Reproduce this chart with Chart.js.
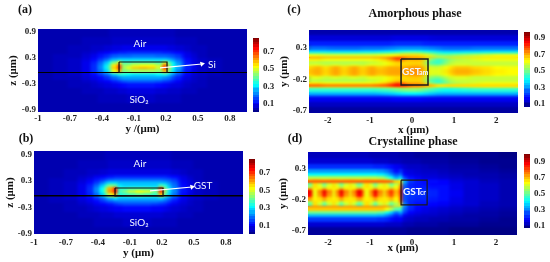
<!DOCTYPE html>
<html><head><meta charset="utf-8">
<style>html,body{margin:0;padding:0;background:#fff}canvas{position:absolute;left:0;top:0}</style>
<script src="https://cdn.jsdelivr.net/npm/chart.js@4"></script>
</head><body>
<script>
// ---------- data (field values in hundredths of the colour-bar unit) ----------
const guideY = [-0.93,-0.79,-0.65,-0.54,-0.47,-0.41,-0.36,-0.32,-0.29,-0.25,-0.21,-0.16,-0.08,-0.01,0.07,0.14,0.20,0.24,0.28,0.31,0.35,0.40,0.45,0.52,0.63,0.80];
const guideZ = [0.86,0.65,0.49,0.38,0.31,0.24,0.17,0.10,0.03,-0.02,-0.08,-0.15,-0.22,-0.31,-0.45,-0.67,-0.86];
const fieldA = [
[4,4,4,4,4,4,4,5,5,5,5,5,5,5,5,5,5,5,5,4,4,4,4,4,4,4],
[4,4,4,5,5,5,5,5,6,6,6,6,6,6,6,6,6,6,6,5,5,5,5,4,4,4],
[4,4,5,5,6,6,7,7,8,8,9,9,9,9,9,9,9,8,8,7,7,6,5,5,4,4],
[4,4,5,6,7,9,10,11,12,13,13,14,14,14,14,14,13,13,12,11,10,8,6,5,4,4],
[4,5,5,7,9,12,14,16,18,19,19,19,20,20,20,19,19,18,17,15,12,9,7,5,4,4],
[4,5,6,8,11,15,19,23,26,28,28,28,28,28,28,28,28,26,23,19,15,11,8,6,5,4],
[4,5,6,9,13,19,26,33,42,52,38,38,40,40,40,38,50,38,30,23,17,12,8,6,5,4],
[4,5,6,9,14,21,30,40,55,68,44,46,50,52,52,48,66,44,32,25,18,13,9,6,5,4],
[4,5,6,9,14,22,31,42,58,72,46,52,58,60,58,50,72,46,33,25,18,13,9,6,5,4],
[4,5,6,9,14,20,28,38,52,62,42,44,46,46,46,44,60,42,30,22,16,12,8,6,5,4],
[4,5,6,8,11,15,19,23,28,34,34,32,30,30,30,32,34,28,22,17,13,10,7,6,5,4],
[4,5,5,7,9,11,14,16,19,22,24,24,24,24,24,24,22,20,16,13,10,8,6,5,4,4],
[4,4,5,6,7,9,10,11,13,15,17,18,18,18,18,17,15,14,12,10,8,7,6,5,4,4],
[4,4,5,5,6,7,8,8,9,10,11,12,12,12,12,11,10,9,8,8,7,6,5,5,4,4],
[4,4,4,5,5,5,6,6,6,7,7,8,8,8,8,7,7,6,6,6,5,5,5,4,4,4],
[4,4,4,4,4,5,5,5,5,5,5,6,6,6,6,5,5,5,5,5,4,4,4,4,4,4],
[4,4,4,4,4,4,4,4,4,4,4,4,4,4,4,4,4,4,4,4,4,4,4,4,4,4]];
const fieldB = [
[4,4,4,4,4,4,4,5,5,5,5,5,5,5,5,5,5,5,5,4,4,4,4,4,4,4],
[4,4,4,5,5,5,5,5,6,6,6,6,6,6,6,6,6,6,6,5,5,5,5,4,4,4],
[4,4,5,5,6,6,7,7,8,8,8,8,8,8,8,8,8,8,8,7,7,6,5,5,4,4],
[4,4,5,6,7,9,10,11,12,13,13,13,13,13,13,13,13,13,12,11,10,8,6,5,4,4],
[4,5,5,7,9,12,14,16,18,19,19,19,19,19,19,19,19,18,17,15,12,9,7,5,4,4],
[4,5,6,8,11,15,20,25,28,28,26,26,26,26,26,26,26,25,22,18,14,10,8,6,5,4],
[4,5,6,9,13,19,27,35,42,40,30,28,28,28,28,28,38,34,26,20,15,11,8,6,5,4],
[4,5,6,9,14,22,32,44,60,72,36,36,38,38,38,36,68,42,30,22,16,12,9,6,5,4],
[4,5,6,9,14,22,32,46,62,74,38,42,48,52,50,42,70,44,30,22,16,12,9,6,5,4],
[4,5,6,9,13,19,28,38,50,60,34,36,38,40,38,36,58,38,28,20,15,11,8,6,5,4],
[4,5,6,8,10,14,18,22,26,30,26,26,26,26,26,26,28,24,20,15,12,9,7,6,5,4],
[4,5,5,7,9,11,14,16,18,20,21,21,21,21,21,21,20,18,15,12,10,8,6,5,4,4],
[4,4,5,6,7,9,10,11,12,14,15,16,16,16,16,15,14,13,11,9,8,7,6,5,4,4],
[4,4,5,5,6,7,8,8,9,10,10,11,11,11,11,10,10,9,8,7,7,6,5,5,4,4],
[4,4,4,5,5,5,6,6,6,7,7,7,7,7,7,7,7,6,6,6,5,5,5,4,4,4],
[4,4,4,4,4,5,5,5,5,5,5,6,6,6,6,5,5,5,5,5,4,4,4,4,4,4],
[4,4,4,4,4,4,4,4,4,4,4,4,4,4,4,4,4,4,4,4,4,4,4,4,4,4]];

const amorphousX = [-2.42,-2.26,-2.04,-1.83,-1.62,-1.40,-1.19,-0.95,-0.76,-0.59,-0.43,-0.29,-0.14,0,0.14,0.29,0.40,0.52,0.67,0.83,1.02,1.24,1.47,1.71,2.0,2.33];
const amorphousY = [0.54,0.44,0.35,0.28,0.24,0.21,0.17,0.14,0.11,0.08,0.03,-0.03,-0.08,-0.13,-0.19,-0.24,-0.27,-0.30,-0.33,-0.37,-0.40,-0.46,-0.54,-0.62,-0.70];
const fieldC = [
[10,10,10,10,10,10,10,10,10,10,10,10,10,10,10,10,10,10,10,10,10,10,10,10,10,10],
[14,14,14,14,14,14,14,14,14,14,15,15,15,15,15,15,15,14,14,14,14,14,14,14,14,14],
[20,20,20,20,20,20,20,20,20,20,21,21,21,21,21,21,20,20,20,20,20,20,20,20,20,20],
[27,27,27,26,26,26,27,27,27,28,29,30,30,30,30,30,29,28,27,26,26,26,27,27,27,27],
[36,36,36,35,35,35,36,36,37,38,39,41,42,42,42,41,39,37,35,34,34,35,35,36,36,36],
[46,46,46,45,45,45,46,46,47,48,50,52,54,54,54,52,49,45,42,41,42,43,44,45,46,46],
[62,62,60,60,60,60,60,60,61,62,63,65,66,66,66,64,60,54,52,52,54,56,58,60,62,62],
[76,76,74,74,74,74,74,74,76,78,84,86,82,76,76,74,70,66,64,66,66,66,66,66,66,66],
[64,64,62,62,62,62,62,62,64,68,74,80,70,70,70,68,56,46,46,52,56,58,60,62,62,62],
[57,57,56,56,56,56,56,58,60,62,66,68,66,67,67,66,50,44,46,54,58,58,58,58,58,58],
[60,61,58,60,58,60,58,61,60,62,65,66,66,68,68,66,54,50,52,58,60,60,58,58,58,58],
[66,70,65,70,65,70,65,70,66,69,70,70,70,72,72,70,60,58,60,63,68,68,66,65,63,62],
[68,71,66,71,66,71,66,71,68,70,71,71,71,73,73,71,61,60,61,65,70,70,68,66,64,63],
[66,70,65,70,65,70,65,70,66,69,70,70,70,72,72,70,60,58,60,63,68,68,66,65,63,62],
[60,61,58,60,58,60,58,61,60,62,65,66,66,68,68,66,54,50,52,58,60,60,58,58,58,58],
[57,57,56,56,56,56,56,58,60,62,66,68,66,67,67,66,50,44,46,54,58,58,58,58,58,58],
[64,64,62,62,62,62,62,62,64,68,74,80,70,70,70,68,56,46,46,52,56,58,60,62,62,62],
[76,76,74,74,74,74,74,74,76,78,84,86,82,76,76,74,70,66,64,66,66,66,66,66,66,66],
[60,60,60,60,60,60,60,60,61,62,63,65,66,66,66,64,60,54,52,52,54,56,58,60,60,60],
[44,44,44,44,44,44,44,44,45,46,48,50,52,52,52,50,47,44,42,41,42,43,44,44,44,44],
[34,34,34,34,34,34,34,34,35,36,37,39,40,40,40,39,37,35,34,34,34,34,34,34,34,34],
[24,24,24,24,24,24,24,24,24,25,26,27,27,27,27,27,26,25,24,24,24,24,24,24,24,24],
[16,16,16,16,16,16,16,16,16,16,17,17,17,17,17,17,16,16,16,16,16,16,16,16,16,16],
[12,12,12,12,12,12,12,12,12,12,12,12,12,12,12,12,12,12,12,12,12,12,12,12,12,12],
[9,9,9,9,9,9,9,9,9,9,9,9,9,9,9,9,9,9,9,9,9,9,9,9,9,9]];

const crystalX = [-2.43,-2.29,-2.17,-2.07,-1.98,-1.88,-1.76,-1.67,-1.57,-1.48,-1.36,-1.26,-1.17,-1.05,-0.95,-0.86,-0.76,-0.67,-0.57,-0.48,-0.38,-0.31,-0.21,-0.07,0.10,0.29,0.48,0.71,1.02,1.38,1.86,2.33];
const crystalY = [0.53,0.42,0.32,0.25,0.20,0.17,0.14,0.11,0.07,0.03,-0.02,-0.09,-0.15,-0.20,-0.25,-0.28,-0.31,-0.35,-0.38,-0.43,-0.49,-0.59,-0.72];
const fieldD = [
[13,13,13,13,13,13,13,13,13,13,13,13,13,13,12,12,12,12,12,12,12,11,11,11,10,10,10,10,9,9,9,8],
[15,15,15,15,15,15,15,15,15,15,15,15,15,15,15,14,14,14,14,13,13,13,12,12,12,11,11,11,10,10,9,9],
[23,23,23,23,23,23,23,23,23,23,23,23,23,23,23,22,22,22,21,20,18,17,15,14,14,13,12,12,11,11,10,9],
[33,33,33,33,33,33,33,33,33,33,33,33,33,33,33,33,32,31,29,25,20,24,17,16,15,14,14,13,12,12,11,10],
[42,42,42,42,42,42,42,42,42,42,42,42,42,42,42,42,41,40,37,32,26,30,19,17,16,15,15,14,13,12,12,11],
[58,58,58,58,58,58,58,58,58,58,58,58,58,58,58,58,56,54,49,43,34,40,24,20,18,16,16,15,14,13,12,11],
[68,70,69,68,69,70,69,68,69,70,69,68,69,70,69,68,69,68,63,56,46,50,30,23,20,18,18,17,15,14,13,12],
[80,80,80,80,80,80,80,80,80,80,80,80,80,80,80,80,80,80,80,78,70,66,34,24,21,20,20,19,16,15,13,12],
[50,68,60,50,60,68,60,50,60,68,60,50,60,68,60,50,60,68,60,50,58,74,30,22,21,20,19,19,17,15,14,12],
[56,68,64,56,64,68,64,56,64,68,64,56,64,68,64,56,64,68,64,56,64,80,27,22,21,21,20,20,17,15,14,12],
[76,66,68,76,68,66,68,76,68,66,68,76,68,66,68,76,68,66,68,74,68,84,26,23,22,22,21,20,17,15,14,12],
[90,64,76,90,76,64,76,90,76,64,76,90,76,64,76,90,76,64,76,84,72,88,26,24,23,23,22,20,18,15,14,12],
[88,64,74,88,74,64,74,88,74,64,74,88,74,64,74,88,74,64,74,82,70,86,26,24,23,23,22,20,18,15,14,12],
[74,66,68,74,68,66,68,74,68,66,68,74,68,66,68,74,68,66,68,72,66,84,26,23,22,22,21,20,17,15,14,12],
[56,68,64,56,64,68,64,56,64,68,64,56,64,68,64,56,64,68,64,56,62,78,27,22,21,21,20,19,17,15,13,12],
[50,68,60,50,60,68,60,50,60,68,60,50,60,68,60,50,60,68,60,50,58,70,30,22,20,20,19,18,16,15,13,12],
[80,80,80,80,80,80,80,80,80,80,80,80,80,80,80,80,80,80,80,78,70,62,34,24,20,19,18,17,15,14,13,12],
[70,70,70,70,70,70,70,70,70,70,70,70,70,70,70,70,70,68,64,58,50,48,28,22,19,17,16,15,14,13,12,11],
[52,52,52,52,52,52,52,52,52,52,52,52,52,52,52,52,50,48,44,38,30,36,24,19,17,16,15,14,13,12,11,10],
[36,36,36,36,36,36,36,36,36,36,36,36,36,36,36,36,35,34,31,27,22,26,18,16,15,14,14,13,12,11,11,10],
[24,24,24,24,24,24,24,24,24,24,24,24,24,24,24,24,23,23,22,20,18,19,15,14,13,13,12,12,11,11,10,9],
[15,15,15,15,15,15,15,15,15,15,15,15,15,15,15,15,15,15,14,14,14,14,12,12,11,11,11,10,10,10,9,9],
[10,10,10,10,10,10,10,10,10,10,10,10,10,10,10,10,10,10,10,10,10,10,10,9,9,9,9,9,8,8,8,8]];

const barLevels = [2,5,8,11,14,17,20,23,26,29,32,35,38,41,44,47,50,53,56,59,62,65,68,71,74,77,80,83,86,89,92,95,98,101];
const ticksWide = [-1,-0.7,-0.4,-0.1,0.2,0.5,0.8];
const ticksZ = [0.9,0.3,-0.3,-0.9];
const ticksX = [-2,-1,0,1,2];
const ticksY = [0.3,-0.2,-0.7];
const barTicks47 = [0.1,0.3,0.5,0.7];
const barTicks59 = [0.1,0.3,0.5,0.7,0.9];

// ---------- colours ----------
const JET = [[0,0,0,128],[0.125,0,0,255],[0.375,0,255,255],[0.625,255,255,0],[0.875,255,0,0],[1,128,0,0]];
function jet(t){
  t=Math.max(0,Math.min(1,t));
  for(let i=1;i<JET.length;i++){
    if(t<=JET[i][0]){
      const a=JET[i-1],b=JET[i],f=(t-a[0])/(b[0]-a[0]);
      return 'rgb('+[1,2,3].map(k=>Math.round(a[k]+(b[k]-a[k])*f)).join(',')+')';
    }
  }
  return 'rgb(128,0,0)';
}
const cache=new Map();
function swatch(w,h,color){
  const key=w+'x'+h+color;
  if(!cache.has(key)){
    const c=document.createElement('canvas');c.width=w;c.height=h;
    const g=c.getContext('2d');g.fillStyle=color;g.fillRect(0,0,w,h);
    cache.set(key,c);
  }
  return cache.get(key);
}
function gap(arr,i,a,b){
  const n=arr.length;
  const l=i>0?Math.abs(arr[i]-arr[i-1]):2*Math.abs(arr[0]-a);
  const r=i<n-1?Math.abs(arr[i+1]-arr[i]):2*Math.abs(b-arr[n-1]);
  return Math.max(l,r);
}
function buildCells(xs,ys,rows,xr,yr,vr,name){
  if(rows.length!==ys.length) throw new Error(name+' rows '+rows.length+' vs '+ys.length);
  const out=[];
  rows.forEach((row,j)=>{
    if(row.length!==xs.length) throw new Error(name+' row '+j+' has '+row.length+' vs '+xs.length);
    row.forEach((v,i)=>out.push({x:xs[i],y:ys[j],v,dw:gap(xs,i,xr[0],xr[1]),dh:gap(ys,j,yr[0],yr[1])}));
  });
  out.sort((p,q)=>q.dw*q.dh-p.dw*p.dh);
  return out;
}
function heatDataset(cells,vr){
  return {
    isHeat:true,order:10,data:cells,showLine:false,pointRadius:4,pointBorderWidth:0,pointHoverRadius:4,
    pointStyle(ctx){
      const p=ctx.raw; if(!p) return 'rect';
      const sx=ctx.chart.scales.x,sy=ctx.chart.scales.y;
      const w=Math.ceil(Math.abs(sx.getPixelForValue(p.dw)-sx.getPixelForValue(0)))+1;
      const h=Math.ceil(Math.abs(sy.getPixelForValue(p.dh)-sy.getPixelForValue(0)))+1;
      return swatch(w,h,jet((p.v-vr[0])/(vr[1]-vr[0])));
    }
  };
}
const blurPlugin={
  id:'blurPlugin',
  afterDatasetDraw(chart,args){
    const ds=chart.data.datasets[args.index];
    if(!ds.isHeat) return;
    const a=chart.chartArea,ctx=chart.ctx,o=chart.options.plugins.blurPlugin;
    const c=document.createElement('canvas');c.width=chart.width;c.height=chart.height;
    c.getContext('2d').drawImage(chart.canvas,0,0);
    ctx.save();
    ctx.beginPath();ctx.rect(a.left,a.top,a.right-a.left,a.bottom-a.top);ctx.clip();
    const span=o.spanX||0;
    if(span>0){
      let n=1;
      for(let dx=-span;dx<=span;dx++){
        if(dx===-span) continue;
        n++;ctx.globalAlpha=1/n;
        ctx.drawImage(c,dx,0);
      }
      ctx.globalAlpha=1;
      const g=c.getContext('2d');g.clearRect(0,0,c.width,c.height);g.drawImage(chart.canvas,0,0);
    }
    ctx.filter='blur('+o.radius+'px)';
    ctx.drawImage(c,0,0);
    ctx.restore();
  }
};
const textPlugin={
  id:'textPlugin',
  afterDraw(chart){
    const ctx=chart.ctx;
    (chart.options.plugins.textPlugin.items||[]).forEach(t=>{
      ctx.save();
      ctx.font=t.font;ctx.fillStyle=t.color||'#111';ctx.textAlign=t.align||'center';ctx.textBaseline='middle';
      ctx.fillText(t.text,t.x,t.y);
      ctx.restore();
    });
  }
};
const SERIF='"Liberation Serif",serif',SANS='Lato,"Open Sans",sans-serif';
const tickFont={family:SERIF,size:9,weight:'bold'};
const titleFont={family:SERIF,size:11,weight:'bold'};

function addCanvas(){const c=document.createElement('canvas');c.width=550;c.height=262;c.style.width='550px';c.style.height='262px';document.body.appendChild(c);return c;}

function panel(o){
  const W=o.box.left-o.yW, H=o.xH;
  const overlays=(o.lines||[]).map(l=>({
    data:l.pts,showLine:true,borderColor:l.color,borderWidth:l.width,tension:0,
    pointRadius:l.head?c=>(c.dataIndex===l.pts.length-1?3:0):0,
    pointStyle:'triangle',pointRotation:l.head||0,pointBackgroundColor:l.color,pointBorderWidth:0,order:l.order||1,fill:false
  }));
  const fix=(list)=>(s)=>{s.ticks=list.map(v=>({value:v}));};
  new Chart(addCanvas(),{
    type:'scatter',
    data:{datasets:[heatDataset(buildCells(o.xs,o.ys,o.rows,o.xr,[o.yr[1],o.yr[0]],o.vr,o.name),o.vr),...overlays]},
    plugins:[blurPlugin,textPlugin],
    options:{
      responsive:false,animation:false,events:[],
      layout:{padding:{left:W,top:o.box.top,right:550-o.box.right,bottom:262-o.box.bottom-H}},
      plugins:{legend:{display:false},tooltip:{enabled:false},blurPlugin:{radius:o.blur,spanX:o.spanX},textPlugin:{items:o.items||[]}},
      scales:{
        x:{type:'linear',min:o.xr[0],max:o.xr[1],grid:{display:false,drawTicks:false},border:{display:false},afterBuildTicks:fix(o.xticks),afterFit(s){s.height=H;},
          ticks:{font:tickFont,color:'#222',padding:o.xpad,autoSkip:false,maxRotation:0,callback:v=>String(v)},
          title:{display:!!o.xtitle,text:o.xtitle||'',font:titleFont,color:'#111',padding:0}},
        y:{type:'linear',min:o.yr[0],max:o.yr[1],grid:{display:false,drawTicks:false},border:{display:false},afterBuildTicks:fix(o.yticks),afterFit(s){s.width=o.yW;},
          ticks:{font:tickFont,color:'#222',padding:2,autoSkip:false,callback:v=>String(v)},
          title:{display:true,text:o.ytitle,font:titleFont,color:'#111',padding:0}}
      }
    }
  });
}
function colorbar(o){
  const vr=o.vr;
  const yr=[vr[0]/100,vr[1]/100];
  const W=18;
  const cells=buildCells([0],barLevels.map(v=>v/100),barLevels.map(v=>[v]),[-1,1],[0,1.02],vr,'bar');
  new Chart(addCanvas(),{
    type:'scatter',
    data:{datasets:[heatDataset(cells,vr)]},
    plugins:[blurPlugin],
    options:{
      responsive:false,animation:false,events:[],
      layout:{padding:{left:o.left,top:o.top,right:550-o.right-W,bottom:262-o.bottom}},
      plugins:{legend:{display:false},tooltip:{enabled:false},blurPlugin:{radius:0.6}},
      scales:{
        x:{type:'linear',display:false,min:-1,max:1},
        y:{type:'linear',position:'right',min:yr[0],max:yr[1],grid:{display:false,drawTicks:false},border:{display:false},
          afterBuildTicks(s){s.ticks=o.ticks.map(v=>({value:v}));},afterFit(s){s.width=W;},
          ticks:{font:tickFont,color:'#222',padding:4,autoSkip:false,callback:v=>v.toFixed(1)}}
      }
    }
  });
}

const whiteSm=(t,x,y,f)=>({text:t,x,y,font:f||('10px '+SANS),color:'#f2f6ff'});
panel({name:'a',box:{left:38,top:29,right:247,bottom:112},yW:31,xH:24,xpad:1,blur:1.2,spanX:2,
  xs:guideY,ys:guideZ,rows:fieldA,xr:[-1,0.96],yr:[-0.95,0.95],vr:[0,85],
  xticks:ticksWide,yticks:ticksZ,xtitle:'y /(μm)',ytitle:'z (μm)',
  lines:[
    {pts:[{x:0.144,y:0.058},{x:0.538,y:0.149}],color:'#ffffff',width:1.2,head:78,order:0},
    {pts:[{x:-0.24,y:0.195},{x:0.21,y:0.195},{x:0.21,y:-0.046},{x:-0.24,y:-0.046},{x:-0.24,y:0.195}],color:'#101010',width:1.2,order:1},
    {pts:[{x:-1,y:-0.046},{x:0.96,y:-0.046}],color:'#000000',width:1.2,order:1}
  ],
  items:[
    {text:'(a)',x:25,y:10,font:'bold 12px '+SERIF},
    whiteSm('Air',140,44),whiteSm('SiO₂',139,100),whiteSm('Si',212,65)
  ]});
panel({name:'b',box:{left:34,top:151,right:243,bottom:234},yW:30,xH:26,xpad:3,blur:1.2,spanX:2,
  xs:guideY,ys:guideZ,rows:fieldB,xr:[-1,0.96],yr:[-0.91,0.99],vr:[0,85],
  xticks:ticksWide,yticks:ticksZ,xtitle:'y (μm)',ytitle:'z (μm)',
  lines:[
    {pts:[{x:0.088,y:0.075},{x:0.482,y:0.166}],color:'#ffffff',width:1.2,head:78,order:0},
    {pts:[{x:-0.24,y:0.143},{x:0.21,y:0.143},{x:0.21,y:-0.035},{x:-0.24,y:-0.035},{x:-0.24,y:0.143}],color:'#101010',width:1.2,order:1},
    {pts:[{x:-1,y:-0.035},{x:0.96,y:-0.035}],color:'#000000',width:1.4,order:1}
  ],
  items:[
    {text:'(b)',x:26,y:139,font:'bold 12px '+SERIF},
    whiteSm('Air',140,164),whiteSm('SiO₂',139,223),whiteSm('GST',203,186)
  ]});
panel({name:'c',box:{left:309,top:30,right:518,bottom:113},yW:31,xH:24,xpad:2,blur:0.8,spanX:5,
  xs:amorphousX,ys:amorphousY,rows:fieldC,xr:[-2.447,2.518],yr:[-0.733,0.586],vr:[6,97],
  xticks:ticksX,yticks:ticksY,xtitle:'x (μm)',ytitle:'y (μm)',
  lines:[{pts:[{x:-0.26,y:0.125},{x:0.38,y:0.125},{x:0.38,y:-0.288},{x:-0.26,y:-0.288},{x:-0.26,y:0.125}],color:'#1a1a1a',width:1.5}],
  items:[
    {text:'(c)',x:294,y:10,font:'bold 12px '+SERIF},
    {text:'Amorphous phase',x:415,y:14,font:'bold 12px '+SERIF},
    {text:'GST',x:402,y:72,font:'bold 10px '+SANS,color:'#f2f6ff',align:'left'},
    {text:'am',x:419,y:73,font:'bold 7px '+SANS,color:'#f2f6ff',align:'left'}
  ]});
panel({name:'d',box:{left:308,top:152,right:517,bottom:235},yW:31,xH:24,xpad:2,blur:0.8,spanX:2,
  xs:crystalX,ys:crystalY,rows:fieldD,xr:[-2.476,2.5],yr:[-0.765,0.574],vr:[7.5,100],
  xticks:ticksX,yticks:ticksY,xtitle:'',ytitle:'y (μm)',
  lines:[{pts:[{x:-0.26,y:0.12},{x:0.36,y:0.12},{x:0.36,y:-0.28},{x:-0.26,y:-0.28},{x:-0.26,y:0.12}],color:'#1a1a1a',width:1.2}],
  items:[
    {text:'(d)',x:295,y:139,font:'bold 12px '+SERIF},
    {text:'Crystalline phase',x:413,y:142,font:'bold 12px '+SERIF},
    {text:'x (μm)',x:403,y:248,font:'bold 11px '+SERIF},
    {text:'GST',x:403,y:192,font:'bold 10px '+SANS,color:'#f2f6ff',align:'left'},
    {text:'cr',x:420,y:193,font:'bold 7px '+SANS,color:'#f2f6ff',align:'left'}
  ]});
colorbar({left:253,right:259,top:38,bottom:112,vr:[1,85],ticks:barTicks47});
colorbar({left:249,right:255,top:159,bottom:234,vr:[1,85],ticks:barTicks47});
colorbar({left:524,right:530,top:32,bottom:107,vr:[6,97],ticks:barTicks59});
colorbar({left:524,right:530,top:154,bottom:228,vr:[7.5,100],ticks:barTicks59});
</script>
</body></html>
